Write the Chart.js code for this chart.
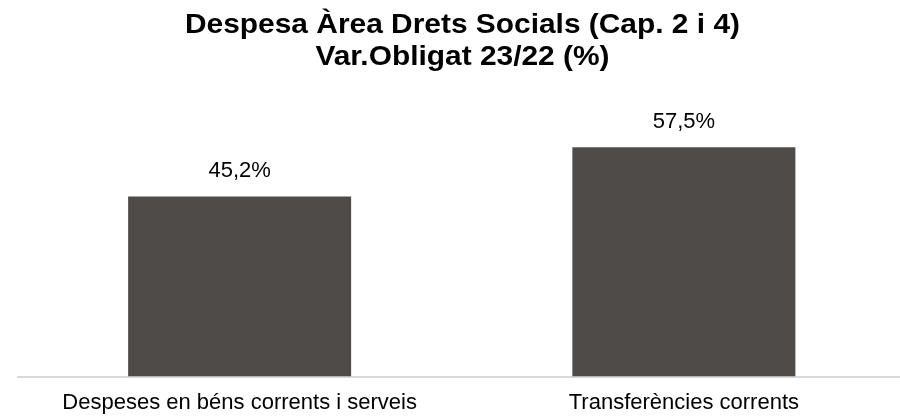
<!DOCTYPE html>
<html>
<head>
<meta charset="utf-8">
<script src="https://cdn.jsdelivr.net/npm/chart.js@4"></script>
<style>
html,body{margin:0;padding:0;background:#fff;overflow:hidden;}
#wrap{position:relative;width:906px;height:434px;}
</style>
</head>
<body>
<div id="wrap"><canvas id="c"></canvas></div>
<script>
const titleLines = ["Despesa Àrea Drets Socials (Cap. 2 i 4)", "Var.Obligat 23/22 (%)"];
const categories = ["Despeses en béns corrents i serveis", "Transferències corrents"];
const values = [45.2, 57.5];
const valueLabels = ["45,2%", "57,5%"];

const FONT = '"Liberation Sans", Arial, sans-serif';

const titlePlugin = {
  id: 'stretchTitle',
  afterDraw(chart) {
    const ctx = chart.ctx;
    ctx.save();
    ctx.font = 'bold 27px ' + FONT;
    ctx.fillStyle = '#000';
    ctx.textAlign = 'center';
    ctx.textBaseline = 'alphabetic';
    const w = ctx.measureText(titleLines[0]).width;
    const sx = 555 / w;
    const cx = 462.5;
    const baselines = [33, 65];
    titleLines.forEach((t, i) => {
      ctx.save();
      ctx.translate(cx, baselines[i]);
      ctx.scale(sx, 1);
      ctx.fillText(t, 0, 0);
      ctx.restore();
    });
    ctx.restore();
  }
};

const labelPlugin = {
  id: 'valueLabels',
  afterDatasetsDraw(chart) {
    const ctx = chart.ctx;
    const meta = chart.getDatasetMeta(0);
    ctx.save();
    ctx.font = '22px ' + FONT;
    ctx.fillStyle = '#000';
    ctx.textAlign = 'center';
    ctx.textBaseline = 'middle';
    meta.data.forEach((bar, i) => {
      ctx.fillText(valueLabels[i], bar.x, bar.y - 25);
    });
    ctx.restore();
  }
};

new Chart(document.getElementById('c'), {
  type: 'bar',
  data: {
    labels: categories,
    datasets: [{
      data: values,
      backgroundColor: '#4f4b49',
      borderWidth: 0,
      barPercentage: 0.502,
      categoryPercentage: 1
    }]
  },
  options: {
    responsive: true,
    maintainAspectRatio: false,
    animation: false,
    layout: { padding: { left: 17.5, right: 0, top: 97.5, bottom: 5 } },
    plugins: {
      legend: { display: false },
      tooltip: { enabled: false },
      title: { display: false }
    },
    scales: {
      x: {
        grid: { display: false, drawTicks: false, tickLength: 0 },
        border: { display: true, color: '#d9d9d9', width: 2 },
        ticks: {
          color: '#000',
          padding: 13,
          font: { family: FONT, size: 22 }
        }
      },
      y: {
        display: false,
        min: 0,
        max: 70
      }
    }
  },
  plugins: [labelPlugin, titlePlugin]
});
</script>
</body>
</html>
